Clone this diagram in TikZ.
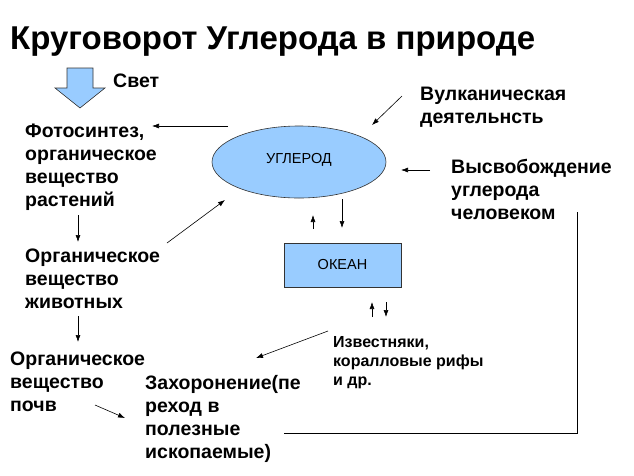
\documentclass[tikz,border=0pt]{standalone}
\usepackage{fontspec}
\setmainfont{Liberation Sans}
\usetikzlibrary{shapes.geometric,arrows.meta}
\definecolor{lb}{HTML}{99CCFF}
\begin{document}
\begin{tikzpicture}[x=1pt,y=-1pt,
  txt/.style={anchor=north west,align=left,inner sep=0pt,font=\fontsize{19.5}{23}\selectfont\bfseries},
  arr/.style={-{Latex[length=7pt,width=5pt]},line width=0.6pt},
  fillc/.style={fill=lb,draw=black!80,line width=0.6pt}]
\useasboundingbox (0,0) rectangle (634,475);
\node[anchor=west,inner sep=0pt,font=\fontsize{33}{36}\selectfont\bfseries] (title) at (10,42) {Круговорот Углерода в природе};
\draw[fillc] (67,68) -- (93,68) -- (93,88) -- (105,88) -- (80,108) -- (55,88) -- (67,88) -- cycle;
\node[txt] (svet) at (113,74) {Свет};
\node[txt] (photo) at (25,124) {Фотосинтез,\\органическое\\вещество\\растений};
\node[fillc,ellipse,minimum width=174pt,minimum height=72pt] (carbon) at (299,162) {};
\node[font=\fontsize{14.5}{15}\selectfont] (ctext) at (299,160) {УГЛЕРОД};
\node[txt] (volc) at (420,87) {Вулканическая\\деятельнсть};
\node[txt] (human) at (451,159) {Высвобождение\\углерода\\человеком};
\node[fillc,rectangle,minimum width=117pt,minimum height=44pt,anchor=north west] (ocean) at (284,243) {};
\node[font=\fontsize{14.5}{15}\selectfont] (otext) at (342.5,264) {ОКЕАН};
\node[txt,font=\fontsize{16}{19}\selectfont\bfseries] (lime) at (333,336) {Известняки,\\коралловые рифы\\и др.};
\node[txt] (animal) at (25,249) {Органическое\\вещество\\животных};
\node[txt] (soil) at (10,352) {Органическое\\вещество\\почв};
\node[txt] (burial) at (145,375) {Захоронение(пе\\реход в\\полезные\\ископаемые)};
\coordinate (a1) at (228,126); \coordinate (a2) at (152,126);
\draw[arr] (a1) -- (a2);
\coordinate (v1) at (402,96); \coordinate (v2) at (372,125);
\draw[arr] (v1) -- (v2);
\coordinate (h1) at (430,170); \coordinate (h2) at (401,170);
\draw[arr] (h1) -- (h2);
\coordinate (an1) at (167,243); \coordinate (an2) at (225,200);
\draw[arr] (an1) -- (an2);
\coordinate (u1) at (313,229); \coordinate (u2) at (313,215);
\draw[arr] (u1) -- (u2);
\coordinate (d1) at (342,199); \coordinate (d2) at (342,228);
\draw[arr] (d1) -- (d2);
\coordinate (u3) at (372,317); \coordinate (u4) at (372,302);
\draw[arr] (u3) -- (u4);
\coordinate (d3) at (386,302); \coordinate (d4) at (386,317);
\draw[arr] (d3) -- (d4);
\coordinate (l1) at (328,331); \coordinate (l2) at (256,358);
\draw[arr] (l1) -- (l2);
\coordinate (p1) at (78,215); \coordinate (p2) at (78,242);
\draw[arr] (p1) -- (p2);
\coordinate (p3) at (78,316); \coordinate (p4) at (78,342);
\draw[arr] (p3) -- (p4);
\coordinate (s1) at (95,405); \coordinate (s2) at (125,418);
\draw[arr] (s1) -- (s2);
\draw[line width=0.6pt] (284,433) -- (577,433) -- (577,212);
\end{tikzpicture}
\end{document}
